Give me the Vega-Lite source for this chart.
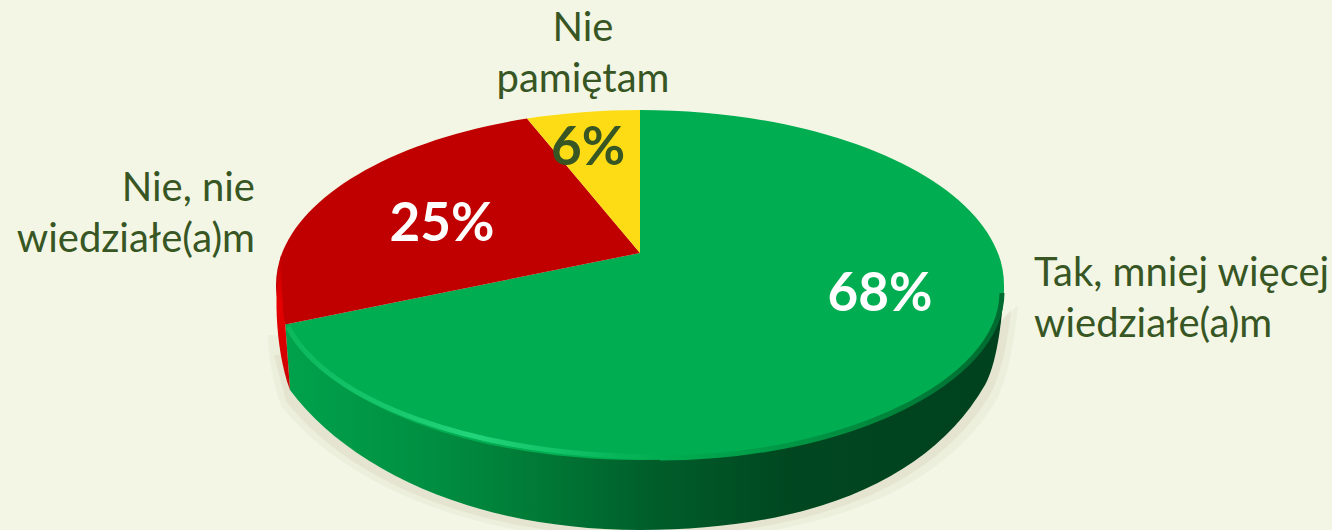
{
"$schema":"https://vega.github.io/schema/vega-lite/v6.json",
"width":1332,"height":530,"padding":0,"autosize":{"type":"none"},
"background":"#f3f6e5",
"view":{"stroke":null},
"data":{"values":[
{"answer":"Tak","label":"Tak, mniej więcej\nwiedziałe(a)m","share":0.68},
{"answer":"Nie","label":"Nie, nie\nwiedziałe(a)m","share":0.25},
{"answer":"NiePamietam","label":"Nie\npamiętam","share":0.06}
]},
"encoding":{
"x":{"datum":0,"type":"quantitative","scale":{"domain":[-640,692],"nice":false,"zero":false},"axis":null},
"y":{"datum":0,"type":"quantitative","scale":{"domain":[245,-285],"nice":false,"zero":false},"axis":null}
},
"layer":[
{"transform":[{"filter":"datum.answer==='Tak'"}],
 "mark":{"type":"point","filled":true,"opacity":0.35,"size":4,"strokeWidth":0,"fill":"#e2e2cf","shape":"M-372,50 C-372,70 -366,105 -358,122 C-295,200 -165,256 0,256 C178,256 305,206 358,112 C368,90 374,60 378,20 L340,60 Z"}},
{"transform":[{"filter":"datum.answer==='Tak'"}],
 "mark":{"type":"point","filled":true,"opacity":0.7,"size":4,"strokeWidth":0,"fill":"#dfdfcb","shape":"M-366,70 L-354,116 C-292,195 -165,251 0,251 C174,251 298,201 352,106 C362,85 368,55 371,25 L340,60 Z"}},
{"transform":[{"filter":"datum.answer==='Tak'"}],
 "mark":{"type":"point","filled":true,"opacity":1,"size":4,"strokeWidth":0,
 "fill":{"gradient":"linear","x1":0,"y1":0,"x2":1,"y2":0,"stops":[{"offset":0,"color":"#00a24c"},{"offset":0.2,"color":"#008f42"},{"offset":0.35,"color":"#007a36"},{"offset":0.5,"color":"#005f2b"},{"offset":0.7,"color":"#004720"},{"offset":1,"color":"#00411e"}]},
 "shape":"M-354.7,39.4 L-350,105 C-290,185 -165,245 0,245 C170,245 290,195 345,100 C356,80 362,40 364,0 Z"}},
{"transform":[{"filter":"datum.answer==='Tak'"}],
 "mark":{"type":"point","filled":true,"opacity":1,"size":4,"strokeWidth":0,"fill":"#00ad50",
 "shape":"M0,-32 L0,-175 C201,-175 364,-97 364,0 C364,97 201,175 0,175 C-169.5,175 -316.3,118.6 -354.7,39.4 Z"}},
{"transform":[{"filter":"datum.answer==='Tak'"}],
 "mark":{"type":"point","filled":false,"opacity":1,"size":4,"strokeWidth":5,
 "stroke":{"gradient":"linear","x1":0,"y1":0,"x2":1,"y2":0,"stops":[{"offset":0,"color":"#0bb85c"},{"offset":0.5,"color":"#22d47a"},{"offset":1,"color":"#00ad50"}]},
 "shape":"M-352,42 C-312,118 -165,171 20,172"}},
{"transform":[{"filter":"datum.answer==='Tak'"}],
 "mark":{"type":"point","filled":false,"opacity":1,"size":4,"strokeWidth":5,
 "stroke":{"gradient":"linear","x1":0,"y1":0,"x2":1,"y2":0,"stops":[{"offset":0,"color":"#00ad50"},{"offset":0.6,"color":"#008a3e"},{"offset":1,"color":"#006a30"}]},
 "shape":"M20,173 C205,173 361,97 362,8"}},
{"transform":[{"filter":"datum.answer==='Nie'"}],
 "mark":{"type":"point","filled":true,"opacity":1,"size":4,"strokeWidth":0,"fill":"#c00000",
 "shape":"M0,-32 L-354.7,39.4 C-360.7,26.4 -364,13.2 -364,0 C-364,-75.7 -262.6,-142.9 -113,-166.4 Z"}},
{"transform":[{"filter":"datum.answer==='Nie'"}],
 "mark":{"type":"point","filled":true,"opacity":1,"size":4,"strokeWidth":0,
 "fill":{"gradient":"linear","x1":0,"y1":0,"x2":0,"y2":1,"stops":[{"offset":0,"color":"#c00000"},{"offset":0.35,"color":"#e60000"},{"offset":1,"color":"#cc0000"}]},
 "shape":"M-359,-30 C-366,0 -366,60 -350,105 L-354.7,39.4 C-358,28 -358,-5 -359,-30 Z"}},
{"transform":[{"filter":"datum.answer==='NiePamietam'"}],
 "mark":{"type":"point","filled":true,"opacity":1,"size":4,"strokeWidth":0,"fill":"#fddc15",
 "shape":"M0,-32 L-113,-166.4 C-76.6,-172 -38.3,-175 0,-175 Z"}},
{"transform":[{"filter":"datum.answer==='Tak'"}],
 "mark":{"type":"text","font":"Lato","fontSize":40,"fill":"#375623","align":"left","baseline":"middle","lineBreak":"\n","lineHeight":51,"dx":394,"dy":-11},
 "encoding":{"text":{"field":"label"}}},
{"transform":[{"filter":"datum.answer==='Nie'"}],
 "mark":{"type":"text","font":"Lato","fontSize":40,"fill":"#375623","align":"right","baseline":"middle","lineBreak":"\n","lineHeight":51,"dx":-385,"dy":-96},
 "encoding":{"text":{"field":"label"}}},
{"transform":[{"filter":"datum.answer==='NiePamietam'"}],
 "mark":{"type":"text","font":"Lato","fontSize":40,"fill":"#375623","align":"center","baseline":"middle","lineBreak":"\n","lineHeight":51,"dx":-57,"dy":-256},
 "encoding":{"text":{"field":"label"}}},
{"transform":[{"filter":"datum.answer==='Tak'"}],
 "mark":{"type":"text","font":"Lato","fontWeight":"bold","fontSize":53,"fill":"#ffffff","align":"center","baseline":"middle","dx":240,"dy":10},
 "encoding":{"text":{"field":"share","type":"quantitative","format":".0%"}}},
{"transform":[{"filter":"datum.answer==='Nie'"}],
 "mark":{"type":"text","font":"Lato","fontWeight":"bold","fontSize":53,"fill":"#ffffff","align":"center","baseline":"middle","dx":-198,"dy":-60},
 "encoding":{"text":{"field":"share","type":"quantitative","format":".0%"}}},
{"transform":[{"filter":"datum.answer==='NiePamietam'"}],
 "mark":{"type":"text","font":"Lato","fontWeight":"bold","fontSize":53,"fill":"#375623","align":"center","baseline":"middle","dx":-52,"dy":-136},
 "encoding":{"text":{"field":"share","type":"quantitative","format":".0%"}}}
]
}
